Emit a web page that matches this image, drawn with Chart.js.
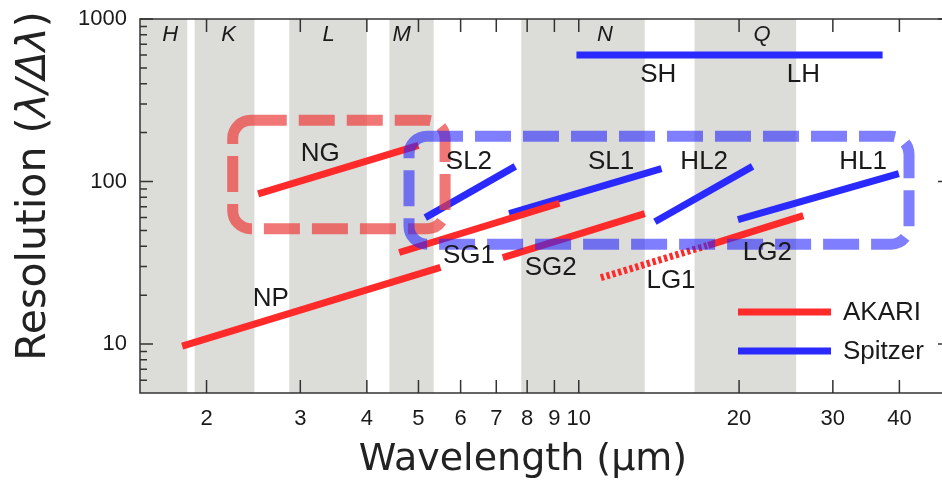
<!DOCTYPE html>
<html>
<head>
<meta charset="utf-8">
<script src="https://cdn.jsdelivr.net/npm/chart.js@4.4.1/dist/chart.umd.min.js"></script>
<style>
  html, body { margin: 0; padding: 0; background: #fff; }
  #wrap { width: 942px; height: 481px; overflow: hidden; position: relative; }
  canvas { display: block; }
</style>
</head>
<body>
<div id="wrap"><canvas id="chart" width="960" height="481"></canvas></div>
<script>
// axis ticks
const xTicks = [2, 3, 4, 5, 6, 7, 8, 9, 10, 20, 30, 40];
const yTicks = [10, 100, 1000];
const yMinorTicks = [6, 7, 8, 9, 20, 30, 40, 50, 60, 70, 80, 90, 200, 300, 400, 500, 600, 700, 800, 900];

// photometric bands (wavelength in µm)
const bandNames = ['H', 'K', 'L', 'M', 'N', 'Q'];
const bandStart = [1.5, 1.9, 2.86, 4.41, 7.8, 16.5];
const bandEnd = [1.84, 2.46, 4.0, 5.34, 13.3, 25.6];
const bandLabelX = [1.71, 2.2, 3.39, 4.65, 11.2, 22.1];
const bandLabelR = 800;

// AKARI modes: [start, end] wavelength and resolution
const akariModes = ['NP', 'NG', 'SG1', 'SG2', 'LG1', 'LG2'];
const akariLambda = [[1.8, 5.5], [2.5, 5.0], [4.6, 9.2], [7.2, 13.3], [11.0, 17.4], [17.5, 26.4]];
const akariR = [[9.7, 29.6], [84, 167], [36.6, 73.5], [34, 63.5], [25.6, 40.3], [40.5, 61.7]];

// Spitzer modes
const spitzerModes = ['SL2', 'SL1', 'HL2', 'HL1', 'SH/LH'];
const spitzerLambda = [[5.15, 7.6], [7.4, 14.3], [13.9, 21.2], [19.9, 39.9], [9.9, 37.2]];
const spitzerR = [[60, 124], [63.5, 120], [56.6, 124], [58.3, 112], [600, 600]];

// text labels placed in data space
const labelText = ['NP', 'NG', 'SG1', 'SG2', 'LG1', 'LG2', 'SL2', 'SL1', 'HL2', 'HL1', 'SH', 'LH'];
const labelLambda = [2.64, 3.27, 6.22, 8.86, 14.9, 22.6, 6.22, 11.5, 17.2, 34.2, 14.1, 26.4];
const labelR = [19.1, 149, 34.9, 29.6, 24.4, 36.6, 131.6, 131.6, 131.6, 131.6, 456, 456];

// highlighted regions (dashed rounded boxes)
const boxLambda = [[2.24, 5.61], [4.80, 41.7]];
const boxR = [[51.3, 238], [41.2, 190]];

const RED = '#ff2a2a';
const BLUE = '#2a2aff';
const BAND_GRAY = '#dcdcd8';
const AXIS = '#333333';
const TEXT = '#1a1a1a';
const boxColors = ['rgba(235, 60, 60, 0.7)', 'rgba(40, 40, 255, 0.6)'];

const legendNames = ['AKARI', 'Spitzer'];
const legendColors = [RED, BLUE];

function segment(lam, r) {
    return [{ x: lam[0], y: r[0] }, { x: lam[1], y: r[1] }];
}

const datasets = [];
akariModes.forEach((m, i) => {
    datasets.push({
        label: m,
        data: segment(akariLambda[i], akariR[i]),
        borderColor: RED,
        borderWidth: 7,
        borderDash: m === 'LG1' ? [3.3, 2.7] : [],
        borderCapStyle: 'butt',
        pointRadius: 0,
        fill: false
    });
});
spitzerModes.forEach((m, i) => {
    datasets.push({
        label: m,
        data: segment(spitzerLambda[i], spitzerR[i]),
        borderColor: BLUE,
        borderWidth: 7,
        borderCapStyle: 'butt',
        pointRadius: 0,
        fill: false
    });
});

const decorPlugin = {
    id: 'decor',
    beforeDatasetsDraw(chart) {
        const { ctx, chartArea: a, scales: { x } } = chart;
        ctx.save();
        ctx.fillStyle = BAND_GRAY;
        bandStart.forEach((s, i) => {
            const x0 = x.getPixelForValue(s);
            const x1 = x.getPixelForValue(bandEnd[i]);
            ctx.fillRect(x0, a.top, x1 - x0, a.bottom - a.top);
        });
        ctx.restore();
    },
    afterDatasetsDraw(chart) {
        const { ctx, chartArea: a, scales: { x, y } } = chart;
        ctx.save();

        // dashed boxes
        boxLambda.forEach((lam, i) => {
            const x0 = x.getPixelForValue(lam[0]);
            const x1 = x.getPixelForValue(lam[1]);
            const y0 = y.getPixelForValue(boxR[i][1]);
            const y1 = y.getPixelForValue(boxR[i][0]);
            ctx.beginPath();
            ctx.roundRect(x0, y0, x1 - x0, y1 - y0, 18);
            ctx.lineWidth = 11;
            ctx.setLineDash([36, 12]);
            ctx.strokeStyle = boxColors[i];
            ctx.stroke();
        });
        ctx.setLineDash([]);

        // band labels
        ctx.fillStyle = TEXT;
        ctx.textAlign = 'center';
        ctx.textBaseline = 'middle';
        ctx.font = 'italic 22px "Liberation Sans", Arial, sans-serif';
        bandNames.forEach((b, i) => {
            ctx.fillText(b, x.getPixelForValue(bandLabelX[i]), y.getPixelForValue(bandLabelR));
        });

        // mode labels
        ctx.font = '26px "Liberation Sans", Arial, sans-serif';
        labelText.forEach((t, i) => {
            ctx.fillText(t, x.getPixelForValue(labelLambda[i]), y.getPixelForValue(labelR[i]));
        });

        // legend
        ctx.textAlign = 'left';
        legendNames.forEach((n, i) => {
            const ly = 312 + i * 39;
            ctx.beginPath();
            ctx.moveTo(738, ly);
            ctx.lineTo(831, ly);
            ctx.lineWidth = 7;
            ctx.strokeStyle = legendColors[i];
            ctx.stroke();
            ctx.fillText(n, 843, ly + 1);
        });

        // frame
        ctx.strokeStyle = AXIS;
        ctx.lineWidth = 1.5;
        ctx.strokeRect(a.left, a.top, a.right - a.left, a.bottom - a.top);

        // inward ticks
        ctx.beginPath();
        xTicks.forEach(v => {
            const px = x.getPixelForValue(v);
            ctx.moveTo(px, a.bottom); ctx.lineTo(px, a.bottom - 13);
            ctx.moveTo(px, a.top); ctx.lineTo(px, a.top + 13);
        });
        yTicks.forEach(v => {
            const py = y.getPixelForValue(v);
            ctx.moveTo(a.left, py); ctx.lineTo(a.left + 13, py);
            ctx.moveTo(a.right, py); ctx.lineTo(a.right - 13, py);
        });
        yMinorTicks.forEach(v => {
            const py = y.getPixelForValue(v);
            ctx.moveTo(a.left, py); ctx.lineTo(a.left + 7, py);
            ctx.moveTo(a.right, py); ctx.lineTo(a.right - 7, py);
        });
        ctx.stroke();

        // axis titles
        ctx.fillStyle = '#222';
        ctx.textBaseline = 'alphabetic';
        ctx.textAlign = 'center';
        ctx.font = '38px "DejaVu Sans", sans-serif';
        ctx.fillText('Wavelength (µm)', 523, 470);

        const parts = [
            ['Resolution (', '41px "DejaVu Sans", sans-serif'],
            ['λ/Δλ', 'italic 41px "DejaVu Sans", sans-serif'],
            [')', '41px "DejaVu Sans", sans-serif']
        ];
        let total = 0;
        parts.forEach(p => { ctx.font = p[1]; total += ctx.measureText(p[0]).width; });
        ctx.translate(45, 186);
        ctx.rotate(-Math.PI / 2);
        ctx.textAlign = 'left';
        let cx = -total / 2;
        parts.forEach(p => {
            ctx.font = p[1];
            ctx.fillText(p[0], cx, 0);
            cx += ctx.measureText(p[0]).width;
        });
        ctx.restore();
    }
};

new Chart(document.getElementById('chart'), {
    type: 'line',
    data: { datasets },
    options: {
        responsive: false,
        animation: false,
        devicePixelRatio: 1,
        events: [],
        layout: { padding: { top: 19, right: 9, left: 0, bottom: 0 } },
        plugins: { legend: { display: false }, tooltip: { enabled: false } },
        scales: {
            x: {
                type: 'logarithmic',
                min: 1.5,
                max: 50,
                grid: { display: false, drawTicks: false },
                border: { display: false },
                ticks: {
                    autoSkip: false,
                    maxRotation: 0,
                    padding: 13,
                    color: TEXT,
                    font: { family: '"Liberation Sans", Arial, sans-serif', size: 22 },
                    callback: v => String(v)
                },
                afterBuildTicks: s => { s.ticks = xTicks.map(v => ({ value: v })); },
                afterFit: s => { s.height = 88; s.paddingLeft = 0; s.paddingRight = 0; }
            },
            y: {
                type: 'logarithmic',
                min: 5,
                max: 1000,
                grid: { display: false, drawTicks: false },
                border: { display: false },
                ticks: {
                    autoSkip: false,
                    padding: 13,
                    color: TEXT,
                    font: { family: '"Liberation Sans", Arial, sans-serif', size: 22 },
                    callback: v => String(v)
                },
                afterBuildTicks: s => { s.ticks = yTicks.map(v => ({ value: v })); },
                afterFit: s => { s.width = 140; s.paddingTop = 0; s.paddingBottom = 0; }
            }
        }
    },
    plugins: [decorPlugin]
});
</script>
</body>
</html>
